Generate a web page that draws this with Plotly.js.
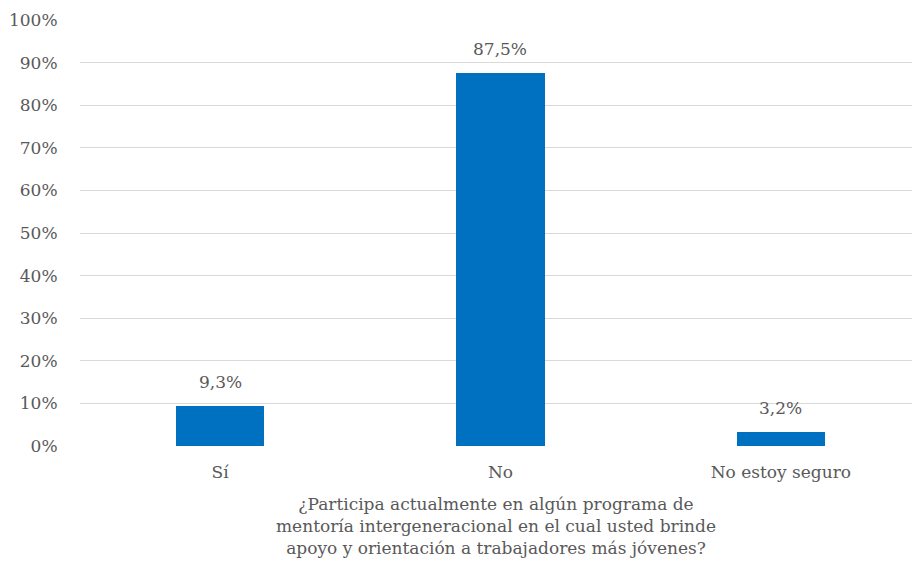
<!DOCTYPE html>
<html>
<head>
<meta charset="utf-8">
<script src="https://cdn.plot.ly/plotly-3.0.1.min.js"></script>
<style>html,body{margin:0;padding:0;background:#fff;}#chart{width:912px;height:569px;}</style>
</head>
<body>
<div id="chart"></div>
<script>
const categories = ["Sí", "No", "No estoy seguro"];
const values = [9.3, 87.5, 3.2];
const labels = values.map(v => v.toFixed(1).replace('.', ',') + '%');
const tickVals = [0,10,20,30,40,50,60,70,80,90,100];
const tickText = tickVals.map(v => v + '%');
const axisTitle = "¿Participa actualmente en algún programa de<br>mentoría intergeneracional en el cual usted brinde<br>apoyo y orientación a trabajadores más jóvenes?";

const font = {family: "DejaVu Serif", size: 17, color: "#595959"};

const annotations = values.map((v, i) => ({
  x: i, y: v, xref: 'x', yref: 'y',
  text: labels[i], showarrow: false,
  yanchor: 'bottom', yshift: 12,
  font: font
}));

Plotly.newPlot('chart', [{
  type: 'bar',
  x: [0,1,2],
  y: values,
  width: 0.314,
  marker: {color: '#0070C0'},
  hoverinfo: 'none'
}], {
  width: 912, height: 569,
  margin: {l: 80, r: 0, t: 20, b: 123},
  paper_bgcolor: '#fff', plot_bgcolor: '#fff',
  font: font,
  showlegend: false,
  bargap: 0,
  annotations: annotations,
  xaxis: {
    range: [-0.5, 2.468],
    tickvals: [0,1,2],
    ticktext: categories,
    showgrid: false, zeroline: false, showline: false,
    ticks: 'outside', ticklen: 11, tickcolor: 'rgba(0,0,0,0)',
    tickfont: font,
    title: {text: axisTitle, font: font, standoff: 16}
  },
  yaxis: {
    range: [0, 100],
    tickvals: tickVals,
    ticktext: tickText,
    showgrid: true, gridcolor: '#d9d9d9', gridwidth: 1,
    zeroline: false, showline: false,
    ticks: 'outside', ticklen: 18, tickcolor: 'rgba(0,0,0,0)',
    tickfont: font
  }
}, {staticPlot: true});
</script>
</body>
</html>
